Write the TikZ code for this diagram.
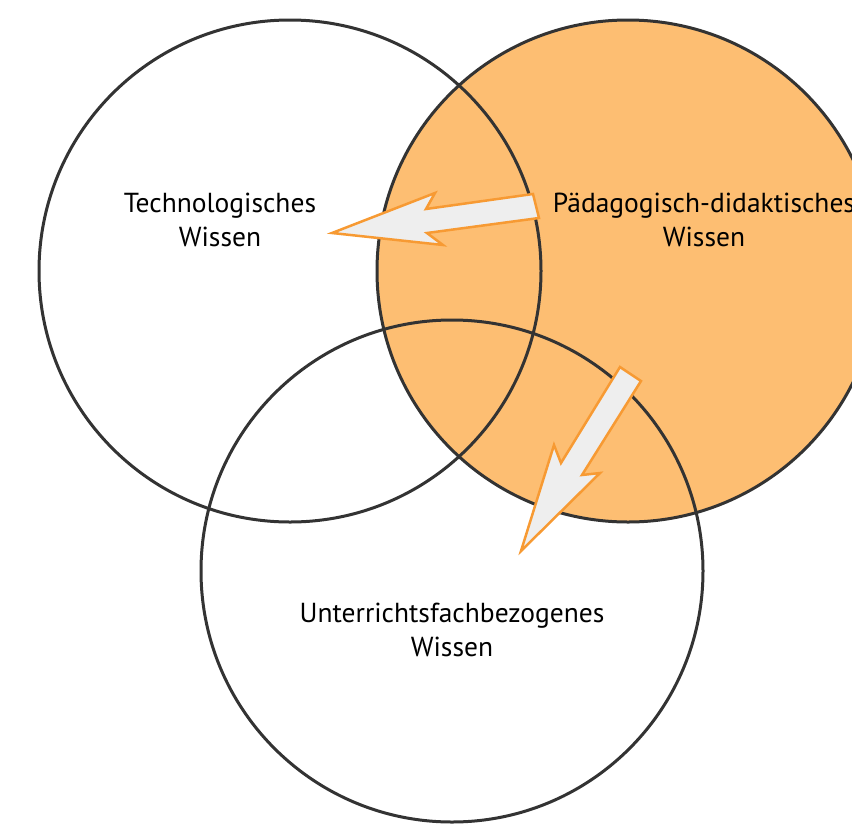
\documentclass[tikz,border=0pt]{standalone}
\usepackage{fontspec}
\setmainfont{PT Sans}
\usepackage{tikz}
\usetikzlibrary{positioning}
\definecolor{paleorange}{RGB}{253,190,114}
\definecolor{arroworange}{RGB}{247,154,51}
\definecolor{arrowgrey}{RGB}{238,238,238}
\definecolor{ringgrey}{RGB}{51,51,51}

\tikzset{
  ring/.style={draw=ringgrey, line width=3pt, circle, minimum size=502pt, inner sep=0pt},
  ringtext/.style={align=center, font=\fontsize{27.5}{34}\selectfont, text=black},
  blockarrow/.style={draw=arroworange, fill=arrowgrey, line width=2.5pt, line join=miter},
}

\begin{document}
\begin{tikzpicture}[x=1pt,y=-1pt]
      \useasboundingbox (0,0) rectangle (852,828);
      \clip (0,0) rectangle (852,828);

      \fill[paleorange] (628,271) circle (251);

      \node[ring] (tech) at (290,271) {};
      \node[ring] (paed) at (628,271) {};
      \node[ring] (fach) at (452,571) {};

      \draw[blockarrow] (533,194) -- (539,218) -- (427,233) -- (443,245)
            -- (332,233) -- (435,193) -- (426,209) -- cycle;
      \draw[blockarrow] (620,367) -- (641,381) -- (582,475) -- (600,473)
            -- (521,551) -- (554,445) -- (561,463) -- cycle;

      \node[ringtext] (techtext) at (220,220) {Technologisches\\Wissen};
      \node[ringtext] (paedtext) at (704,220) {Pädagogisch-didaktisches\\Wissen};
      \node[ringtext] (fachtext) at (452,630) {Unterrichtsfachbezogenes\\Wissen};
    \end{tikzpicture}
\end{document}
